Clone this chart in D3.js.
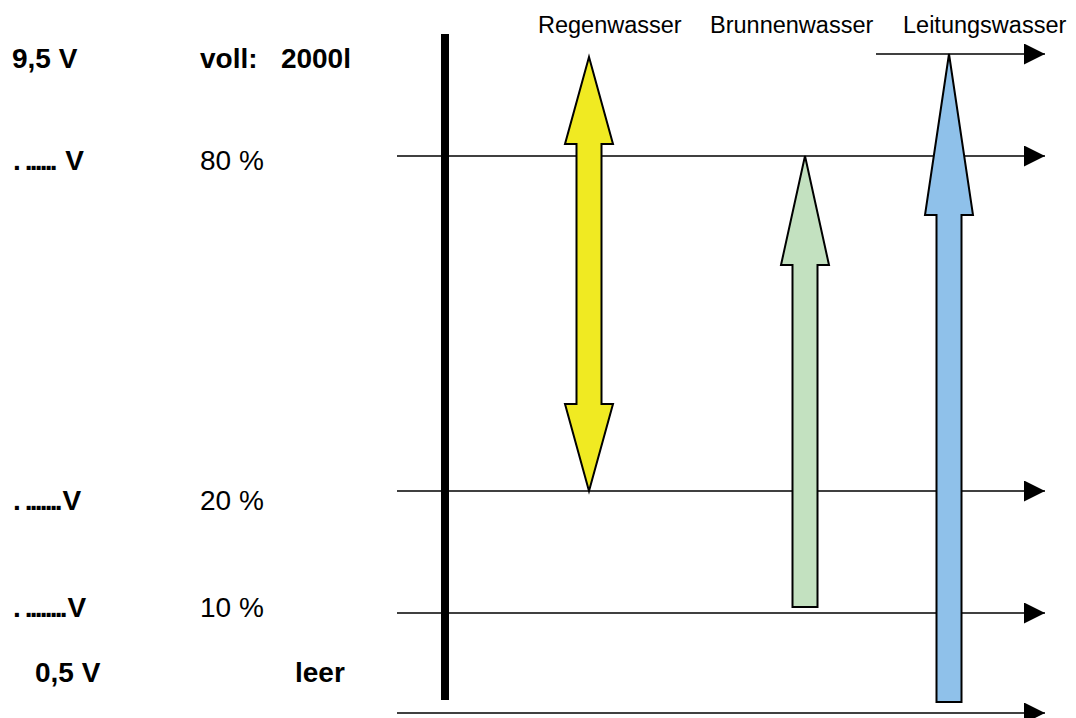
<!DOCTYPE html>
<html><head><meta charset="utf-8">
<script src="https://cdn.jsdelivr.net/npm/d3@7"></script>
<style>body{margin:0;background:#fff}svg{display:block}</style>
</head><body>
<script>
// ---- data ----
const levels = [0, 10, 20, 80, 100];
const voltLabels = ["0,5 V", ".|........|V", ".|.......|V", ".|......| V", "9,5 V"];
const levelLabels = ["leer", "10 %", "20 %", "80 %", "voll:   2000l"];
const series = ["Regenwasser", "Brunnenwasser", "Leitungswasser"];
const fromLevel = [20, 10.5, 1.1];
const toLevel = [99.4, 80, 100];
const doubleHead = [true, false, false];

// ---- layout / style ----
const W = 1076, H = 718;
const levelY = [713, 613, 491, 156, 54];
const textBaseline = [682, 617, 510, 170, 68];
const arrowX = [589, 805, 949];
const headLen = [87, 109, 161];
const colors = ["#f0ea22", "#c3e1c0", "#8fc1ea"];
const headW = 48, shaftW = 25;

const y = d3.scaleLinear().domain(levels).range(levelY);

const svg = d3.select("body").append("svg").attr("width", W).attr("height", H);
const font = "'Liberation Sans', Arial, Helvetica, sans-serif";

// level lines with arrowheads
svg.append("defs").append("marker")
  .attr("id", "ah").attr("viewBox", "0 0 10 10").attr("refX", 10).attr("refY", 5)
  .attr("markerUnits", "userSpaceOnUse").attr("markerWidth", 22).attr("markerHeight", 21)
  .attr("orient", "auto")
  .append("path").attr("d", "M0,0L10,5L0,10Z").attr("fill", "#000");

const lineStart = levels.map(l => l === 100 ? 876 : 397);
svg.selectAll("line.level").data(levels).join("line")
  .attr("class", "level")
  .attr("x1", (d, i) => lineStart[i]).attr("x2", 1045)
  .attr("y1", d => y(d)).attr("y2", d => y(d))
  .attr("stroke", "#000").attr("stroke-width", 1.6)
  .attr("marker-end", "url(#ah)");

// thick vertical bar
svg.append("rect").attr("x", 441).attr("y", 34).attr("width", 8).attr("height", 666).attr("fill", "#000");

// arrows
function arrowPath(cx, y0, y1, hl, dbl) {
  const hs = shaftW / 2, hh = headW / 2;
  const p = d3.path();
  p.moveTo(cx, y1);
  p.lineTo(cx + hh, y1 + hl);
  p.lineTo(cx + hs, y1 + hl);
  if (dbl) {
    p.lineTo(cx + hs, y0 - hl);
    p.lineTo(cx + hh, y0 - hl);
    p.lineTo(cx, y0);
    p.lineTo(cx - hh, y0 - hl);
    p.lineTo(cx - hs, y0 - hl);
  } else {
    p.lineTo(cx + hs, y0);
    p.lineTo(cx - hs, y0);
  }
  p.lineTo(cx - hs, y1 + hl);
  p.lineTo(cx - hh, y1 + hl);
  p.closePath();
  return p.toString();
}
svg.selectAll("path.arrow").data(series).join("path")
  .attr("class", "arrow")
  .attr("d", (d, i) => arrowPath(arrowX[i], y(fromLevel[i]), y(toLevel[i]), headLen[i], doubleHead[i]))
  .attr("fill", (d, i) => colors[i])
  .attr("stroke", "#000").attr("stroke-width", 2).attr("stroke-linejoin", "miter");

// series labels
const labelX = [538, 710, 903];
svg.selectAll("text.series").data(series).join("text")
  .attr("class", "series")
  .attr("x", (d, i) => labelX[i]).attr("y", 33)
  .attr("font-family", font).attr("font-size", 23.5)
  .text(d => d);

// left labels
const voltX = [35, 13, 13, 13, 12];
svg.selectAll("text.volt").data(levels).join("text")
  .attr("class", "volt")
  .attr("x", (d, i) => voltX[i]).attr("y", (d, i) => textBaseline[i])
  .attr("font-family", font).attr("font-size", 28).attr("font-weight", "bold")
  .attr("xml:space", "preserve").style("white-space", "pre")
  .each(function (d, i) {
    const t = d3.select(this);
    const s = voltLabels[i];
    if (s.includes("|")) {
      const parts = s.split("|");
      t.append("tspan").text(parts[0]);
      t.append("tspan").attr("dx", 4).attr("letter-spacing", -2.8).text(parts[1]);
      t.append("tspan").attr("dx", 2.8).attr("letter-spacing", 0).text(parts[2]);
    } else t.text(s);
  });

const lvX = [295, 200, 200, 200, 200];
svg.selectAll("text.lv").data(levels).join("text")
  .attr("class", "lv")
  .attr("x", (d, i) => lvX[i]).attr("y", (d, i) => textBaseline[i])
  .attr("font-family", font).attr("font-size", 28)
  .attr("font-weight", d => (d === 0 || d === 100) ? "bold" : "normal")
  .attr("xml:space", "preserve").style("white-space", "pre")
  .text((d, i) => levelLabels[i]);
</script>
</body></html>
